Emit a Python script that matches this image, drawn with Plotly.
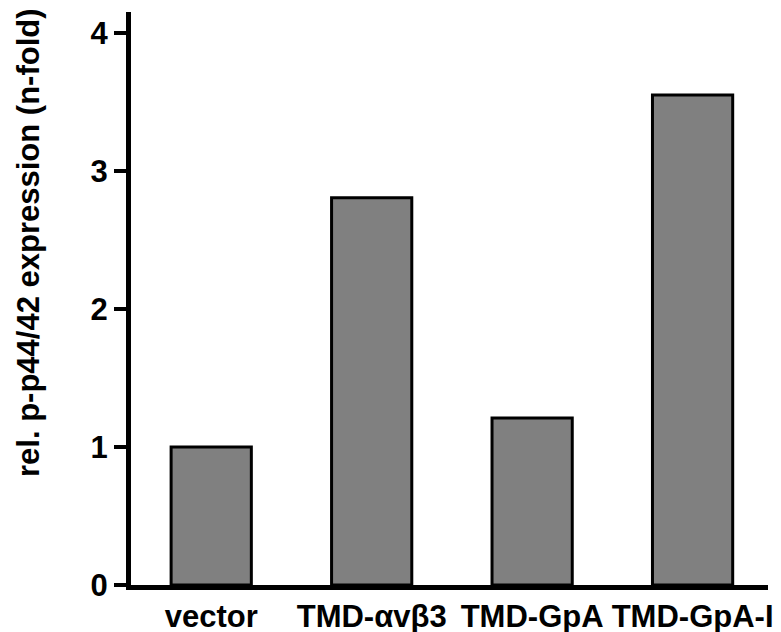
import plotly.graph_objects as go

categories = ["vector", "TMD-αvβ3", "TMD-GpA", "TMD-GpA-I"]
values = [1.0, 2.805, 1.21, 3.548]
y_ticks = [0, 1, 2, 3, 4]
y_title = "rel. p-p44/42 expression (n-fold)"

FONT = "Arial, Liberation Sans, Helvetica, sans-serif"

fig = go.Figure(
    go.Bar(
        x=categories,
        y=values,
        width=0.5,
        marker=dict(color="#808080", line=dict(color="black", width=3)),
    )
)

fig.update_layout(
    width=781,
    height=632,
    margin=dict(l=131, r=13, t=12, b=47),
    paper_bgcolor="white",
    plot_bgcolor="white",
    showlegend=False,
    font=dict(family=FONT, size=30, color="black", weight="bold"),
)

fig.update_xaxes(
    range=[-0.5, 3.47],
    showline=True,
    linecolor="black",
    linewidth=5,
    ticks="",
    tickangle=0,
    showgrid=False,
    zeroline=False,
    tickfont=dict(family=FONT, size=31, color="black", weight="bold"),
    automargin=False,
)

fig.update_yaxes(
    range=[0, 4.15],
    tickvals=y_ticks,
    showline=True,
    linecolor="black",
    linewidth=5,
    ticks="outside",
    ticklen=12,
    tickwidth=4,
    tickcolor="black",
    showgrid=False,
    zeroline=False,
    tickfont=dict(family=FONT, size=31, color="black", weight="bold"),
    automargin=False,
)

fig.add_annotation(
    text=y_title,
    xref="paper",
    yref="paper",
    x=-0.16,
    y=0.597,
    xanchor="center",
    yanchor="middle",
    textangle=-90,
    showarrow=False,
    font=dict(family=FONT, size=31, color="black", weight="bold"),
)

fig.write_html(
    "out.html",
    config={"displayModeBar": False},
    post_script="document.body.style.margin='0';",
)
